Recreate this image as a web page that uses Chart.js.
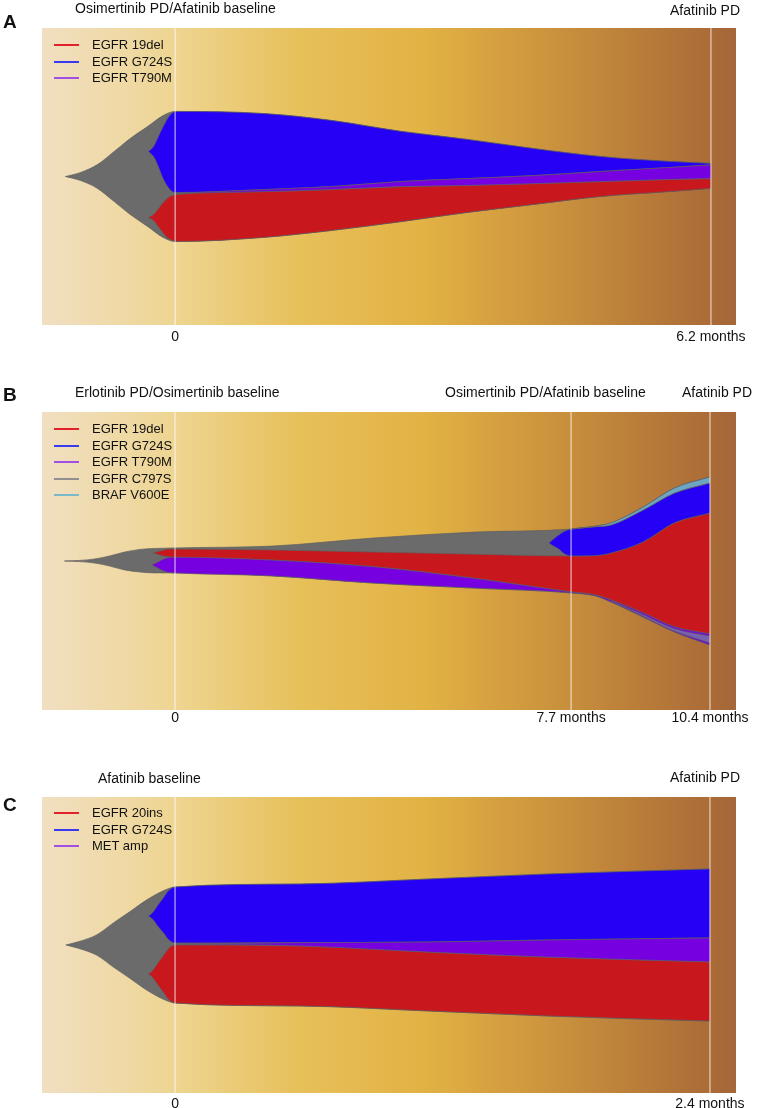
<!DOCTYPE html>
<html>
<head>
<meta charset="utf-8">
<script src="https://cdn.jsdelivr.net/npm/chart.js@4.4.0/dist/chart.umd.min.js"></script>
<style>
  body { margin: 0; background: #fff; font-family: "Liberation Sans", Arial, sans-serif; color: #111; }
  #page { position: relative; width: 759px; height: 1108px; overflow: hidden; }
  .panel { position: absolute; left: 0; width: 759px; }
  .panel canvas { position: absolute; left: 0; top: 0; }
  .letter { position: absolute; font-weight: bold; font-size: 19px; line-height: 19px; }
  .title { position: absolute; font-size: 14px; line-height: 14px; white-space: nowrap; }
  .legend { position: absolute; left: 54px; font-size: 13px; }
  .legend div { position: relative; height: 16.5px; line-height: 16.5px; padding-left: 38px; white-space: nowrap; }
  .legend span { position: absolute; left: 0; top: 7px; width: 25px; height: 2px; }
</style>
</head>
<body>
<div id="page">
  <div class="panel" id="panelA" style="top:0;height:350px">
    <canvas id="chartA" width="759" height="350"></canvas>
    <div class="letter" style="left:3px;top:12px">A</div>
    <div class="title" style="left:75px;top:1px">Osimertinib PD/Afatinib baseline</div>
    <div class="title" style="left:670px;top:3px">Afatinib PD</div>
    <div class="legend" id="legendA" style="top:37px"></div>
  </div>
  <div class="panel" id="panelB" style="top:360px;height:375px">
    <canvas id="chartB" width="759" height="375"></canvas>
    <div class="letter" style="left:3px;top:25px">B</div>
    <div class="title" style="left:75px;top:25px">Erlotinib PD/Osimertinib baseline</div>
    <div class="title" style="left:445px;top:25px">Osimertinib PD/Afatinib baseline</div>
    <div class="title" style="left:682px;top:25px">Afatinib PD</div>
    <div class="legend" id="legendB" style="top:61px"></div>
  </div>
  <div class="panel" id="panelC" style="top:745px;height:363px">
    <canvas id="chartC" width="759" height="363"></canvas>
    <div class="letter" style="left:3px;top:50px">C</div>
    <div class="title" style="left:98px;top:26px">Afatinib baseline</div>
    <div class="title" style="left:670px;top:25px">Afatinib PD</div>
    <div class="legend" id="legendC" style="top:60px"></div>
  </div>
</div>

<script>
// ---------- Panel A ----------
const timeA = [0, 6.2];
const timeLabelsA = ['0', '6.2 months'];
const namesA = ['EGFR 19del', 'EGFR G724S', 'EGFR T790M'];

const grayA_x  = [-1.27, -1.10, -0.90, -0.72, -0.52, -0.32, -0.14, 0, 1.02, 1.80, 2.61, 3.38, 4.15, 4.93, 5.70, 6.2];
const grayA_hi = [0, 1.3, 4.0, 8.1, 12.8, 16.8, 20.5, 21.9, 21.2, 18.9, 15.2, 12.5, 9.4, 6.7, 5.1, 4.4];
const grayA_lo = [0, -1.3, -4.0, -8.1, -12.8, -16.8, -20.5, -21.9, -20.5, -18.2, -15.2, -12.1, -9.4, -6.7, -5.1, -4.0];

const blueA_x  = [-0.31, -0.25, -0.20, -0.14, -0.08, -0.03, 0, 1.02, 1.80, 2.61, 3.38, 4.15, 4.93, 5.70, 6.2];
const blueA_hi = [8.4, 10.1, 13.1, 16.8, 19.9, 21.5, 21.9, 21.2, 18.9, 15.2, 12.5, 9.4, 6.7, 5.1, 4.4];
const blueA_lo = [8.4, 6.7, 3.7, -0.7, -3.7, -5.1, -5.4, -4.4, -3.4, -1.7, -0.7, 0.3, 1.7, 3.0, 3.9];

const redA_x  = [-0.31, -0.25, -0.20, -0.14, -0.08, -0.03, 0, 1.02, 1.80, 2.61, 3.38, 4.15, 4.93, 5.70, 6.2];
const redA_hi = [-13.8, -12.8, -11.1, -8.8, -7.1, -6.4, -6.1, -5.1, -4.4, -3.4, -3.0, -2.4, -1.7, -1.0, -0.7];
const redA_lo = [-13.8, -14.8, -16.7, -19.0, -20.9, -21.5, -21.9, -20.5, -18.2, -15.2, -12.1, -9.4, -6.7, -5.1, -4.0];

const purpleA_x  = [0, 1.02, 1.80, 2.61, 3.38, 4.15, 4.93, 5.70, 6.2];
const purpleA_hi = [-5.7, -4.4, -3.4, -1.7, -0.7, 0.3, 1.7, 3.0, 3.9];
const purpleA_lo = [-5.7, -5.1, -4.4, -3.4, -3.0, -2.4, -1.7, -1.0, -0.7];

// ---------- Panel B ----------
const timeB = [0, 7.7, 10.4];
const timeLabelsB = ['0', '7.7 months', '10.4 months'];
const namesB = ['EGFR 19del', 'EGFR G724S', 'EGFR T790M', 'EGFR C797S', 'BRAF V600E'];

const grayB_x  = [-2.15, -1.85, -1.56, -1.27, -0.98, -0.68, -0.39, 0, 1.88, 3.85, 5.82, 7.7, 8.17, 8.48, 9.10, 9.71, 10.4];
const grayB_hi = [0, 0.2, 0.7, 1.7, 3.0, 3.9, 4.2, 4.4, 5.0, 7.7, 9.7, 10.7, 11.7, 12.8, 18.1, 24.5, 28.2];
const grayB_lo = [0, -0.2, -0.7, -1.7, -3.0, -3.7, -4.0, -4.0, -5.0, -7.4, -9.1, -10.7, -11.7, -13.8, -18.8, -23.8, -28.2];

const redB_x  = [-0.43, -0.33, -0.23, -0.14, 0, 1.88, 3.85, 5.82, 7.7, 8.17, 8.48, 9.10, 9.71, 10.4];
const redB_hi = [2.7, 3.2, 3.6, 4.0, 4.0, 3.7, 3.0, 2.3, 1.7, 1.8, 2.7, 6.4, 12.8, 16.1];
const redB_lo = [2.7, 2.2, 1.7, 1.4, 1.3, 0.3, -1.9, -5.8, -10.4, -11.4, -13.1, -17.4, -22.1, -24.5];

const purpleB_x  = [-0.45, -0.33, -0.23, -0.14, 0, 1.88, 3.85, 5.82, 7.7, 8.17, 8.48, 9.10, 9.71, 10.4];
const purpleB_hi = [-1.3, -0.3, 0.6, 1.1, 1.3, 0.3, -1.9, -5.8, -10.4, -11.4, -13.1, -17.4, -22.1, -24.5];
const purpleB_lo = [-1.3, -2.4, -3.3, -3.8, -4.0, -5.0, -7.4, -9.1, -10.7, -11.7, -13.8, -18.8, -23.8, -28.2];

const blueB_x  = [7.27, 7.36, 7.46, 7.56, 7.7, 8.17, 8.48, 9.10, 9.71, 10.4];
const blueB_hi = [6.0, 7.4, 8.7, 9.9, 10.7, 11.5, 12.1, 17.1, 22.8, 26.2];
const blueB_lo = [6.0, 5.0, 4.0, 2.5, 1.7, 1.8, 2.7, 6.4, 12.8, 16.1];

const brafB_x  = [7.7, 8.17, 8.48, 9.10, 9.71, 10.4];
const brafB_hi = [10.7, 11.7, 12.8, 18.1, 24.5, 28.2];
const brafB_lo = [10.7, 11.5, 12.1, 17.1, 22.8, 26.2];

const c797B_x  = [8.48, 9.10, 9.71, 10.4];
const c797B_hi = [-13.4, -18.0, -22.7, -25.2];
const c797B_lo = [-13.4, -18.5, -23.5, -27.5];

// ---------- Panel C ----------
const timeC = [0, 2.4];
const timeLabelsC = ['0', '2.4 months'];
const namesC = ['EGFR 20ins', 'EGFR G724S', 'MET amp'];

const grayC_x  = [-0.49, -0.43, -0.35, -0.28, -0.20, -0.13, -0.05, 0, 0.56, 1.14, 1.68, 2.4];
const grayC_hi = [0, 1.2, 3.5, 7.3, 11.4, 15.1, 18.4, 19.6, 20.6, 22.3, 24.0, 25.7];
const grayC_lo = [0, -1.2, -3.5, -7.3, -11.4, -15.1, -18.4, -19.6, -20.6, -22.3, -24.0, -25.7];

const blueC_x  = [-0.12, -0.10, -0.08, -0.05, -0.03, 0, 0.56, 1.14, 1.68, 2.4];
const blueC_hi = [9.8, 11.0, 13.2, 16.2, 18.3, 19.6, 20.6, 22.3, 24.0, 25.7];
const blueC_lo = [9.8, 8.7, 6.6, 3.9, 1.9, 0.7, 0.8, 1.0, 1.7, 2.4];

const redC_x  = [-0.12, -0.10, -0.08, -0.05, -0.03, 0, 0.56, 1.14, 1.68, 2.4];
const redC_hi = [-9.8, -8.6, -6.4, -3.4, -1.3, 0, -0.3, -2.4, -4.1, -5.7];
const redC_lo = [-9.8, -11.0, -13.2, -16.2, -18.3, -19.6, -20.6, -22.3, -24.0, -25.7];

const purpleC_x  = [0, 0.56, 1.14, 1.68, 2.4];
const purpleC_hi = [0.3, 0.8, 1.0, 1.7, 2.4];
const purpleC_lo = [0.3, -0.3, -2.4, -4.1, -5.7];

// colours
const FILL = { gray: '#6b6b6b', red: '#c8181d', blue: '#2500f5', purple: '#7700e0', braf: '#6da6c2', c797: '#7862b0' };
const KEY = { red: '#e3202b', blue: '#3a3af5', purple: '#a050e6', gray: '#909090', braf: '#7ab8cc' };

Chart.defaults.font.family = '"Liberation Sans", Arial, sans-serif';
Chart.defaults.color = '#111';

// gradient behind the fish, light beige -> gold -> brown
const backdrop = {
  id: 'backdrop',
  beforeDatasetsDraw(chart) {
    const { ctx, chartArea: a } = chart;
    const g = ctx.createLinearGradient(a.left, 0, a.right, 0);
    g.addColorStop(0, '#f1dfc2');
    g.addColorStop(0.19, '#eed592');
    g.addColorStop(0.37, '#e7c05a');
    g.addColorStop(0.55, '#e2b244');
    g.addColorStop(0.68, '#d29c3f');
    g.addColorStop(0.82, '#bf843b');
    g.addColorStop(0.96, '#ab6c37');
    g.addColorStop(1, '#a5663a');
    ctx.save();
    ctx.fillStyle = g;
    ctx.fillRect(a.left, a.top, a.width, a.height);
    ctx.restore();
  }
};

// pale vertical line at each sampling time
const timeLines = {
  id: 'timeLines',
  afterDatasetsDraw(chart) {
    const { ctx, chartArea: a, scales: { x } } = chart;
    ctx.save();
    ctx.strokeStyle = 'rgba(255,255,255,0.55)';
    ctx.lineWidth = 1.5;
    x.ticks.forEach(t => {
      const px = x.getPixelForValue(t.value);
      ctx.beginPath();
      ctx.moveTo(px, a.top);
      ctx.lineTo(px, a.bottom);
      ctx.stroke();
    });
    ctx.restore();
  }
};

function drawFish(id, bands, times, labels, xMin, xMax, axisH, tickPad) {
  const datasets = [];
  bands.forEach((b, i) => {
    const order = bands.length - i; // first band sits at the back
    const common = {
      borderColor: 'rgba(95,95,95,0.85)',
      borderWidth: 0.8,
      pointRadius: 0,
      cubicInterpolationMode: 'monotone',
      order
    };
    datasets.push({ ...common, data: b.x.map((x, k) => ({ x, y: b.lo[k] })), fill: false });
    datasets.push({ ...common, data: b.x.map((x, k) => ({ x, y: b.hi[k] })), fill: '-1', backgroundColor: b.color });
  });

  new Chart(document.getElementById(id), {
    type: 'line',
    data: { datasets },
    options: {
      responsive: false,
      animation: false,
      devicePixelRatio: 1,
      layout: { padding: { left: 42, right: 23, top: id === 'chartA' ? 28 : 52, bottom: 0 } },
      scales: {
        x: {
          type: 'linear',
          min: xMin,
          max: xMax,
          grid: { display: false, drawTicks: false },
          border: { display: false },
          afterBuildTicks: axis => { axis.ticks = times.map(v => ({ value: v })); },
          afterFit: axis => { axis.height = axisH; },
          ticks: {
            autoSkip: false,
            maxRotation: 0,
            padding: tickPad,
            font: { size: 14 },
            color: '#111',
            callback: (v, i) => labels[i]
          }
        },
        y: { display: false, min: -50, max: 50 }
      },
      plugins: {
        legend: { display: false },
        tooltip: { enabled: false }
      }
    },
    plugins: [backdrop, timeLines]
  });
}

function drawKey(id, names, colors) {
  const box = document.getElementById(id);
  names.forEach((n, i) => {
    const row = document.createElement('div');
    row.innerHTML = `<span style="background:${colors[i]}"></span>${n}`;
    box.appendChild(row);
  });
}

drawFish('chartA', [
  { x: grayA_x, hi: grayA_hi, lo: grayA_lo, color: FILL.gray },
  { x: blueA_x, hi: blueA_hi, lo: blueA_lo, color: FILL.blue },
  { x: redA_x, hi: redA_hi, lo: redA_lo, color: FILL.red },
  { x: purpleA_x, hi: purpleA_hi, lo: purpleA_lo, color: FILL.purple }
], timeA, timeLabelsA, -1.541, 6.49, 25, 4);

drawFish('chartB', [
  { x: grayB_x, hi: grayB_hi, lo: grayB_lo, color: FILL.gray },
  { x: redB_x, hi: redB_hi, lo: redB_lo, color: FILL.red },
  { x: purpleB_x, hi: purpleB_hi, lo: purpleB_lo, color: FILL.purple },
  { x: blueB_x, hi: blueB_hi, lo: blueB_lo, color: FILL.blue },
  { x: brafB_x, hi: brafB_hi, lo: brafB_lo, color: FILL.braf },
  { x: c797B_x, hi: c797B_hi, lo: c797B_lo, color: FILL.c797 }
], timeB, timeLabelsB, -2.586, 10.906, 25, 0);

drawFish('chartC', [
  { x: grayC_x, hi: grayC_hi, lo: grayC_lo, color: FILL.gray },
  { x: blueC_x, hi: blueC_hi, lo: blueC_lo, color: FILL.blue },
  { x: redC_x, hi: redC_hi, lo: redC_lo, color: FILL.red },
  { x: purpleC_x, hi: purpleC_hi, lo: purpleC_lo, color: FILL.purple }
], timeC, timeLabelsC, -0.597, 2.517, 15, 3);

drawKey('legendA', namesA, [KEY.red, KEY.blue, KEY.purple]);
drawKey('legendB', namesB, [KEY.red, KEY.blue, KEY.purple, KEY.gray, KEY.braf]);
drawKey('legendC', namesC, [KEY.red, KEY.blue, KEY.purple]);
</script>
</body>
</html>
